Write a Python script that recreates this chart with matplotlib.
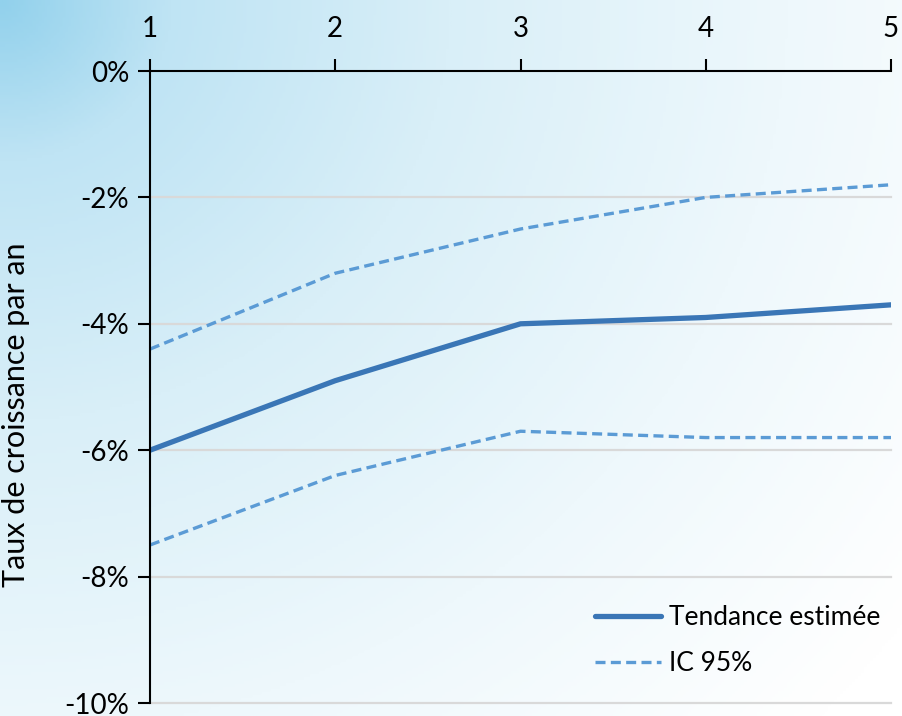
import numpy as np
import matplotlib.pyplot as plt
from matplotlib.colors import LinearSegmentedColormap
from matplotlib.ticker import FuncFormatter

plt.rcParams['font.family'] = ['Lato', 'DejaVu Sans']

# data
annees = [1, 2, 3, 4, 5]
tendance = [-6.0, -4.9, -4.0, -3.9, -3.7]
ic_haut = [-4.4, -3.2, -2.5, -2.0, -1.8]
ic_bas = [-7.5, -6.4, -5.7, -5.8, -5.8]
y_ticks = [0, -2, -4, -6, -8, -10]

fig = plt.figure(figsize=(9.02, 7.16), dpi=100)

# sky-like background (blue in the top-left corner fading to white)
bg = fig.add_axes([0, 0, 1, 1], zorder=-10)
gx, gy = np.meshgrid(np.linspace(0, 1, 300), np.linspace(0, 1, 240))
d = np.sqrt(gx ** 2 + (0.85 * gy) ** 2)
sky = LinearSegmentedColormap.from_list(
    'sky', [(0, '#92d1ec'), (0.15, '#bfe4f4'), (0.4, '#d9eff8'),
            (0.7, '#eef8fc'), (1, '#ffffff')])
bg.imshow(d, cmap=sky, aspect='auto', extent=[0, 1, 0, 1], origin='upper',
          vmin=0, vmax=1.25)
bg.axis('off')

ax = fig.add_axes([150 / 902, 13 / 716, 741 / 902, 632 / 716])
ax.patch.set_alpha(0)

ax.plot(annees, tendance, color='#3a76b6', lw=3.8, solid_capstyle='round',
        label='Tendance estimée', zorder=3)
ax.plot(annees, ic_haut, color='#5b9bd5', lw=2.4, ls=(0, (3, 1.6)),
        label='IC 95%', zorder=3)
ax.plot(annees, ic_bas, color='#5b9bd5', lw=2.4, ls=(0, (3, 1.6)), zorder=3)

ax.set_xlim(1, 5)
ax.set_ylim(-10, 0)
ax.set_xticks(annees)
ax.set_yticks(y_ticks)
ax.yaxis.set_major_formatter(FuncFormatter(lambda v, p: f'{v:.0f}%'))

for v in y_ticks[1:]:
    ax.axhline(v, color='#d9d9d9', lw=1.6, zorder=1, clip_on=False)

ax.xaxis.tick_top()
ax.tick_params(axis='x', direction='out', length=9, width=1.5, labelsize=20, pad=12)
ax.tick_params(axis='y', direction='out', length=9, width=1.5, labelsize=20, pad=6)
for s in ['right', 'bottom']:
    ax.spines[s].set_visible(False)
for s in ['top', 'left']:
    ax.spines[s].set_linewidth(1.5)
    ax.spines[s].set_zorder(4)

ax.set_ylabel('Taux de croissance par an', fontsize=22)
ax.yaxis.set_label_coords(-0.162, 0.456)

ax.legend(loc='upper left', bbox_to_anchor=(571 / 902, 1 - 581 / 716),
          bbox_transform=fig.transFigure, frameon=False, fontsize=19,
          handlelength=2.5, handletextpad=0.3, labelspacing=0.8)

fig.savefig('out.png', dpi=100)
